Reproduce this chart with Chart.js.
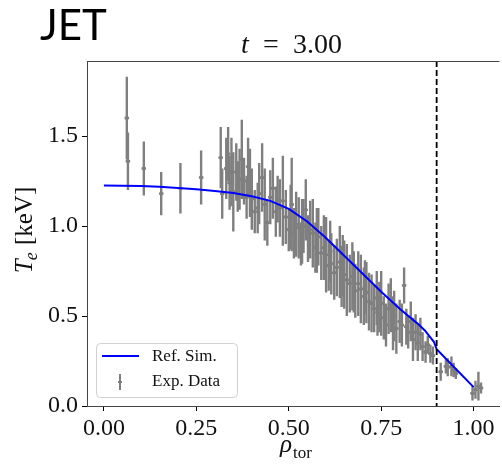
<!DOCTYPE html>
<html lang="en">
<head>
<meta charset="UTF-8">
<title>JET - Te profile</title>
<script src="https://cdn.jsdelivr.net/npm/chart.js"></script>
<style>
  html, body { margin: 0; padding: 0; background: #fff; }
  canvas { display: block; }
</style>
</head>
<body>
<canvas id="teChart" width="502" height="466"></canvas>
<script>
// reference simulation (blue line)
const simX = [0, 0.05, 0.1, 0.15, 0.2, 0.25, 0.3, 0.35, 0.4, 0.45, 0.5, 0.55, 0.6, 0.65, 0.7, 0.75, 0.8, 0.85, 0.868, 0.893, 0.9, 0.95, 1.0];
const simY = [1.225, 1.224, 1.222, 1.218, 1.212, 1.205, 1.195, 1.183, 1.165, 1.14, 1.095, 1.025, 0.935, 0.835, 0.735, 0.635, 0.54, 0.455, 0.42, 0.355, 0.315, 0.21, 0.105];

// experimental data with error bars
const expX = [0.062, 0.065, 0.108, 0.155, 0.207, 0.263, 0.316, 0.320,
  0.331, 0.340, 0.350, 0.358, 0.367, 0.373, 0.379, 0.386, 0.395, 0.400,
  0.408, 0.416, 0.428, 0.435, 0.442, 0.450, 0.457, 0.465, 0.476, 0.484,
  0.492, 0.500, 0.508, 0.514, 0.520, 0.527, 0.533, 0.540, 0.546, 0.552,
  0.558, 0.565, 0.572, 0.580, 0.588, 0.595, 0.601, 0.608, 0.615, 0.623,
  0.630, 0.638, 0.643, 0.650, 0.657, 0.665, 0.672, 0.680, 0.688, 0.695,
  0.703, 0.710, 0.717, 0.724, 0.731, 0.738, 0.745, 0.750, 0.757, 0.763,
  0.770, 0.776, 0.782, 0.791, 0.800, 0.812, 0.818, 0.823, 0.830, 0.836,
  0.843, 0.849, 0.856, 0.862, 0.870, 0.876, 0.883, 0.890,
  0.911, 0.925, 0.930, 0.940, 0.946, 0.952, 0.997, 1.005, 1.013, 1.020,
  0.336, 0.345, 0.362, 0.390, 0.420, 0.470, 0.505, 0.536,
  0.576, 0.612, 0.646, 0.676, 0.706, 0.740, 0.785, 0.806];
const expY = [1.60, 1.36, 1.32, 1.18, 1.21, 1.27, 1.38, 1.18,
  1.32, 1.24, 1.19, 1.30, 1.26, 1.37, 1.25, 1.16, 1.24, 1.15,
  1.08, 1.10, 1.27, 1.12, 1.02, 1.16, 1.21, 1.08, 1.10, 1.14,
  1.05, 0.98, 1.12, 0.96, 1.01, 0.99, 0.90, 1.00, 1.09, 0.93,
  0.98, 0.96, 0.88, 0.94, 0.85, 0.88, 0.84, 0.78, 0.79, 0.74,
  0.77, 0.80, 0.72, 0.73, 0.70, 0.68, 0.72, 0.64, 0.68, 0.65,
  0.61, 0.63, 0.58, 0.57, 0.54, 0.60, 0.55, 0.57, 0.49, 0.45,
  0.54, 0.56, 0.46, 0.43, 0.47, 0.67, 0.44, 0.41, 0.47, 0.37,
  0.41, 0.35, 0.40, 0.33, 0.30, 0.34, 0.29, 0.28,
  0.19, 0.22, 0.215, 0.22, 0.20, 0.18, 0.07, 0.09, 0.11, 0.10,
  1.40, 1.30, 1.22, 1.33, 1.18, 1.15, 1.05, 0.97,
  0.92, 0.86, 0.78, 0.69, 0.66, 0.52, 0.50, 0.45];
const expErr = [0.23, 0.16, 0.15, 0.12, 0.14, 0.15, 0.17, 0.14,
  0.17, 0.15, 0.22, 0.16, 0.17, 0.22, 0.13, 0.12, 0.19, 0.17,
  0.12, 0.14, 0.19, 0.20, 0.13, 0.15, 0.17, 0.14, 0.16, 0.25,
  0.15, 0.12, 0.26, 0.14, 0.18, 0.17, 0.12, 0.15, 0.17, 0.13,
  0.16, 0.19, 0.14, 0.16, 0.15, 0.18, 0.21, 0.14, 0.17, 0.15,
  0.16, 0.20, 0.17, 0.19, 0.20, 0.16, 0.19, 0.15, 0.18, 0.19,
  0.16, 0.17, 0.16, 0.16, 0.13, 0.15, 0.14, 0.18, 0.12, 0.12,
  0.14, 0.15, 0.15, 0.14, 0.12, 0.10, 0.10, 0.09, 0.11, 0.12,
  0.10, 0.10, 0.09, 0.08, 0.06, 0.05, 0.05, 0.05,
  0.05, 0.04, 0.05, 0.055, 0.04, 0.03, 0.04, 0.05, 0.08, 0.03,
  0.15, 0.19, 0.14, 0.16, 0.17, 0.13, 0.18, 0.18,
  0.18, 0.17, 0.17, 0.17, 0.15, 0.13, 0.14, 0.12];
const expXErr = 0.006;

const xTicks = [0, 0.25, 0.5, 0.75, 1.0];
const yTicks = [0, 0.5, 1.0, 1.5];
const separatrix = 0.9;

const SERIF = '"Liberation Serif", "DejaVu Serif", serif';
const INK = '#111';
const GREY = '#7f7f7f';
const BLUE = '#0000ff';

// grey error bars, drawn under the line
const errorBars = {
  id: 'errorBars',
  beforeDatasetsDraw(chart) {
    const { ctx, chartArea: a, scales: { x, y } } = chart;
    ctx.save();
    ctx.beginPath();
    ctx.rect(a.left, a.top, a.width, a.height);
    ctx.clip();
    ctx.strokeStyle = GREY;
    ctx.lineWidth = 2.4;
    expX.forEach((xv, i) => {
      const px = x.getPixelForValue(xv);
      const py = y.getPixelForValue(expY[i]);
      ctx.beginPath();
      ctx.moveTo(px, y.getPixelForValue(expY[i] - expErr[i]));
      ctx.lineTo(px, y.getPixelForValue(expY[i] + expErr[i]));
      ctx.moveTo(x.getPixelForValue(xv - expXErr), py);
      ctx.lineTo(x.getPixelForValue(xv + expXErr), py);
      ctx.stroke();
    });
    ctx.restore();
  }
};

// dashed line, top spine, titles, axis labels, legend
const decorations = {
  id: 'decorations',
  afterDatasetsDraw(chart) {
    const { ctx, chartArea: a, scales: { x } } = chart;
    ctx.save();
    const sx = x.getPixelForValue(separatrix);
    ctx.strokeStyle = '#000';
    ctx.lineWidth = 1.8;
    ctx.setLineDash([6, 3]);
    ctx.beginPath();
    ctx.moveTo(sx, a.top);
    ctx.lineTo(sx, a.bottom);
    ctx.stroke();
    ctx.setLineDash([]);

    ctx.strokeStyle = '#444';
    ctx.lineWidth = 1;
    ctx.beginPath();
    ctx.moveTo(a.left, a.top + 0.5);
    ctx.lineTo(a.right, a.top + 0.5);
    ctx.stroke();
    ctx.restore();
  },
  afterDraw(chart) {
    const { ctx } = chart;
    ctx.save();
    ctx.fillStyle = '#000';
    ctx.textBaseline = 'alphabetic';
    ctx.textAlign = 'left';

    // JET
    ctx.font = '42px Lato, "Open Sans", sans-serif';
    ctx.fillText('JET', 40, 40);

    // t = 3.00
    ctx.fillStyle = INK;
    ctx.font = 'italic 28px ' + SERIF;
    ctx.fillText('t', 241, 53);
    ctx.font = '28px ' + SERIF;
    ctx.textAlign = 'center';
    ctx.fillText('=', 271, 53);
    ctx.textAlign = 'left';
    ctx.fillText('3.00', 293, 53);

    // x label: rho_tor
    ctx.font = 'italic 25px ' + SERIF;
    const wRho = ctx.measureText('ρ').width;
    ctx.font = '17px ' + SERIF;
    const wTor = ctx.measureText('tor').width;
    const x0 = 296 - (wRho + wTor + 1) / 2;
    ctx.font = 'italic 25px ' + SERIF;
    ctx.fillText('ρ', x0, 452);
    ctx.font = '17px ' + SERIF;
    ctx.fillText('tor', x0 + wRho + 1, 458);

    // y label: T_e [keV]
    ctx.translate(32, 230);
    ctx.rotate(-Math.PI / 2);
    ctx.font = 'italic 25px ' + SERIF;
    const wT = ctx.measureText('T').width;
    ctx.font = 'italic 18px ' + SERIF;
    const wE = ctx.measureText('e').width;
    ctx.font = '25px ' + SERIF;
    const wK = ctx.measureText(' [keV]').width;
    const p = -(wT + wE + wK) / 2;
    ctx.font = 'italic 25px ' + SERIF;
    ctx.fillText('T', p, 0);
    ctx.font = 'italic 18px ' + SERIF;
    ctx.fillText('e', p + wT - 1, 5);
    ctx.font = '25px ' + SERIF;
    ctx.fillText(' [keV]', p + wT + wE, 0);
    ctx.setTransform(1, 0, 0, 1, 0, 0);

    // legend
    const bx = 96, by = 343, bw = 141, bh = 54;
    ctx.beginPath();
    ctx.roundRect(bx + 0.5, by + 0.5, bw, bh, 4);
    ctx.fillStyle = 'rgba(255,255,255,0.8)';
    ctx.fill();
    ctx.strokeStyle = '#d0d0d0';
    ctx.lineWidth = 1;
    ctx.stroke();

    const ds = chart.data.datasets;
    ctx.strokeStyle = BLUE;
    ctx.lineWidth = 2;
    ctx.beginPath();
    ctx.moveTo(102, 356);
    ctx.lineTo(139, 356);
    ctx.stroke();

    ctx.strokeStyle = GREY;
    ctx.beginPath();
    ctx.moveTo(120, 374);
    ctx.lineTo(120, 390);
    ctx.moveTo(118, 382);
    ctx.lineTo(122, 382);
    ctx.stroke();

    ctx.fillStyle = INK;
    ctx.font = '17px ' + SERIF;
    ctx.textBaseline = 'middle';
    ctx.fillText(ds[0].label, 152, 357);
    ctx.fillText(ds[1].label, 152, 382);
    ctx.restore();
  }
};

new Chart(document.getElementById('teChart'), {
  type: 'scatter',
  data: {
    datasets: [
      {
        type: 'line',
        label: 'Ref. Sim.',
        data: simX.map((v, i) => ({ x: v, y: simY[i] })),
        borderColor: BLUE,
        borderWidth: 2,
        pointRadius: 0,
        tension: 0,
        fill: false
      },
      {
        label: 'Exp. Data',
        data: expX.map((v, i) => ({ x: v, y: expY[i] })),
        backgroundColor: GREY,
        borderColor: GREY,
        pointRadius: 1.5,
        pointHoverRadius: 1.5
      }
    ]
  },
  options: {
    responsive: false,
    animation: false,
    layout: { padding: { top: 61, right: 0, bottom: 0, left: 0 } },
    plugins: {
      legend: { display: false },
      tooltip: { enabled: false },
      title: { display: false }
    },
    scales: {
      x: {
        type: 'linear',
        min: -0.0457,
        max: 1.07,
        afterBuildTicks: s => { s.ticks = xTicks.map(v => ({ value: v })); },
        afterFit: s => { s.height = 60; },
        border: { display: true, color: '#444', width: 1 },
        grid: { drawOnChartArea: false, drawTicks: true, tickLength: 5, tickColor: '#000' },
        ticks: {
          color: INK,
          padding: 3,
          maxRotation: 0,
          font: { family: SERIF, size: 24 },
          callback: v => Number(v).toFixed(2)
        }
      },
      y: {
        min: 0,
        max: 1.917,
        afterBuildTicks: s => { s.ticks = yTicks.map(v => ({ value: v })); },
        afterFit: s => { s.width = 87; },
        border: { display: true, color: '#444', width: 1 },
        grid: { drawOnChartArea: false, drawTicks: true, tickLength: 5, tickColor: '#000' },
        ticks: {
          color: INK,
          padding: 4,
          font: { family: SERIF, size: 24 },
          callback: v => Number(v).toFixed(1)
        }
      }
    }
  },
  plugins: [errorBars, decorations]
});
</script>
</body>
</html>
